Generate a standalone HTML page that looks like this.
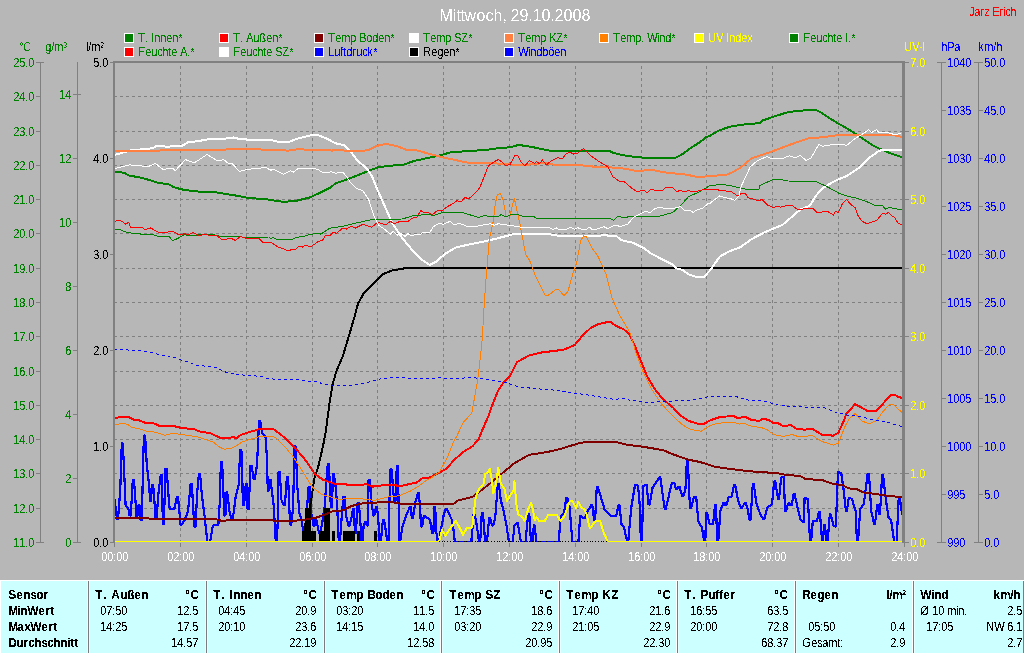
<!DOCTYPE html>
<html lang="de"><head><meta charset="utf-8"><title>Mittwoch, 29.10.2008</title>
<style>html,body{margin:0;padding:0;background:#b7b7b7;overflow:hidden}svg{display:block}text{font-family:"Liberation Sans",sans-serif;font-size:11px}.b{font-weight:bold;font-size:12px}.e{text-anchor:end}.m{text-anchor:middle}.g{fill:#008000}.bl{fill:#0000ff}.y{fill:#ffff00}.w{fill:#fff}</style></head><body>
<svg width="1024" height="653" viewBox="0 0 1024 653">
<defs><filter id="cr" x="0" y="0" width="1024" height="653" filterUnits="userSpaceOnUse" color-interpolation-filters="sRGB"><feComponentTransfer><feFuncA type="discrete" tableValues="0 0 0 0 0 0 0 0 0 1 1 1 1 1 1 1 1 1 1 1"/></feComponentTransfer></filter><filter id="cr2" x="0" y="0" width="1024" height="40" filterUnits="userSpaceOnUse" color-interpolation-filters="sRGB"><feComponentTransfer><feFuncA type="discrete" tableValues="0 0 0 0 0 0 0 0 0 0 0 1 1 1 1 1 1 1 1 1"/></feComponentTransfer></filter></defs>
<rect x="0" y="0" width="1024" height="653" fill="#b7b7b7"/>
<g shape-rendering="crispEdges">
<rect x="124" y="33" width="10" height="10" fill="#fff"/><rect x="125" y="34" width="8" height="8" fill="#008000"/>
<rect x="219" y="33" width="10" height="10" fill="#fff"/><rect x="220" y="34" width="8" height="8" fill="#ff0000"/>
<rect x="314" y="33" width="10" height="10" fill="#fff"/><rect x="315" y="34" width="8" height="8" fill="#800000"/>
<rect x="409" y="33" width="10" height="10" fill="#fff"/><rect x="410" y="34" width="8" height="8" fill="#ffffff"/>
<rect x="504" y="33" width="10" height="10" fill="#fff"/><rect x="505" y="34" width="8" height="8" fill="#ff8040"/>
<rect x="599" y="33" width="10" height="10" fill="#fff"/><rect x="600" y="34" width="8" height="8" fill="#ff8000"/>
<rect x="694" y="33" width="10" height="10" fill="#fff"/><rect x="695" y="34" width="8" height="8" fill="#ffff00"/>
<rect x="789" y="33" width="10" height="10" fill="#fff"/><rect x="790" y="34" width="8" height="8" fill="#008000"/>
<rect x="124" y="47" width="10" height="10" fill="#fff"/><rect x="125" y="48" width="8" height="8" fill="#ff0000"/>
<rect x="219" y="47" width="10" height="10" fill="#fff"/><rect x="220" y="48" width="8" height="8" fill="#ffffff"/>
<rect x="314" y="47" width="10" height="10" fill="#fff"/><rect x="315" y="48" width="8" height="8" fill="#0000ff"/>
<rect x="409" y="47" width="10" height="10" fill="#fff"/><rect x="410" y="48" width="8" height="8" fill="#000000"/>
<rect x="504" y="47" width="10" height="10" fill="#fff"/><rect x="505" y="48" width="8" height="8" fill="#0000ff"/>
</g>
<g shape-rendering="crispEdges" stroke="#808080" stroke-width="1" fill="none">
<path stroke-dasharray="3 3" stroke-dashoffset="1" d="M115 96.5H902M115 131.5H902M115 165.5H902M115 199.5H902M115 233.5H902M115 268.5H902M115 302.5H902M115 336.5H902M115 371.5H902M115 405.5H902M115 439.5H902M115 473.5H902M115 508.5H902"/>
<path stroke-dasharray="3 3" stroke-dashoffset="3" d="M180.5 63V541M246.5 63V541M312.5 63V541M377.5 63V541M443.5 63V541M509.5 63V541M575.5 63V541M641.5 63V541M706.5 63V541M772.5 63V541M838.5 63V541"/>
<path stroke="none" fill="#808080" d="M113 61H905V543H902V63H115V543H113Z"/>
<path d="M40.5 62V543M36 62.5H44M36 96.5H40M36 131.5H40M36 165.5H40M36 199.5H40M36 233.5H40M36 268.5H40M36 302.5H40M36 336.5H40M36 371.5H40M36 405.5H40M36 439.5H40M36 473.5H40M36 508.5H40M36 542.5H44M77.5 62V543M73 542.5H81M73 478.5H77M73 414.5H77M73 350.5H77M73 286.5H77M73 222.5H77M73 158.5H77M73 94.5H81M110 542.5H113M110 446.5H113M110 350.5H113M110 254.5H113M110 158.5H113M110 62.5H113M905 542.5H909M905 473.5H909M905 405.5H909M905 336.5H909M905 268.5H909M905 199.5H909M905 131.5H909M905 62.5H909M941.5 62V543M937 62.5H946M941 110.5H946M941 158.5H946M941 206.5H946M941 254.5H946M941 302.5H946M941 350.5H946M941 398.5H946M941 446.5H946M941 494.5H946M937 542.5H946M978.5 62V543M974 62.5H983M978 110.5H983M978 158.5H983M978 206.5H983M978 254.5H983M978 302.5H983M978 350.5H983M978 398.5H983M978 446.5H983M978 494.5H983M974 542.5H983M114.5 543V547M180.5 543V547M246.5 543V547M312.5 543V547M377.5 543V547M443.5 543V547M509.5 543V547M575.5 543V547M641.5 543V547M706.5 543V547M772.5 543V547M838.5 543V547M904.5 543V547"/>
</g>
<clipPath id="pc"><rect x="115" y="63" width="787" height="479"/></clipPath>
<g fill="none" shape-rendering="crispEdges" stroke-linejoin="round" clip-path="url(#pc)">
<polyline points="114.0,496.1 116.0,510.0 117.0,519.0 118.0,519.0 119.5,500.0 120.5,483.0 121.8,443.5 122.8,443.5 124.0,468.0 125.6,505.3 128.4,509.0 129.6,515.4 130.8,515.4 132.8,479.6 133.9,479.6 135.7,503.5 136.0,518.2 137.2,518.2 138.4,505.3 139.6,505.3 140.6,520.0 141.8,520.0 143.1,464.9 143.9,435.5 145.1,435.5 146.7,463.1 149.5,488.8 149.8,500.7 151.0,500.7 152.0,485.1 153.2,485.1 155.0,509.0 155.3,518.2 156.5,518.2 158.7,490.6 160.8,475.0 162.0,475.0 162.8,523.7 163.9,523.7 165.4,468.6 166.6,468.6 168.4,494.3 169.7,509.0 174.3,509.0 176.8,497.0 178.0,497.0 179.8,516.3 180.1,524.6 181.2,524.6 184.4,520.9 188.1,510.8 190.6,484.2 191.8,484.2 193.0,503.5 194.3,526.4 195.5,526.4 197.2,492.5 198.9,474.1 200.1,474.1 201.8,494.3 204.6,516.3 207.4,542.0 210.1,542.0 212.9,525.5 218.4,524.6 219.7,503.5 220.9,462.1 222.1,462.1 223.5,494.3 224.2,515.4 225.4,515.4 226.0,492.5 227.2,492.5 229.4,510.8 231.6,519.1 232.8,519.1 235.8,496.1 238.6,485.1 240.2,450.2 241.4,450.2 242.3,477.8 242.9,505.3 244.1,505.3 245.8,484.2 246.9,484.2 247.5,509.0 248.7,509.0 250.5,465.8 251.7,465.8 253.6,478.7 254.8,478.7 257.0,464.9 259.1,421.0 260.2,421.0 262.5,433.7 265.8,437.3 267.1,463.1 267.8,490.6 268.9,490.6 269.4,479.6 270.6,479.6 271.8,490.6 273.7,505.3 275.8,542.0 276.9,542.0 277.7,521.8 278.6,472.2 279.8,472.2 281.4,499.8 283.8,505.3 284.9,505.3 286.9,476.8 288.1,476.8 289.3,507.1 290.1,524.6 291.2,524.6 293.0,509.0 294.6,446.5 295.8,446.5 297.2,485.1 299.4,512.7 301.6,520.0 303.4,532.9 304.6,532.9 306.5,515.0 308.6,486.9 309.7,486.9 310.8,510.8 313.6,525.5 314.7,525.5 315.3,520.0 316.4,520.0 319.1,532.9 320.2,532.9 322.4,521.8 325.1,503.5 326.0,485.1 327.8,464.0 328.9,464.0 330.2,494.3 330.9,507.1 332.1,507.1 332.8,474.1 333.9,474.1 336.1,490.6 338.0,521.8 338.8,542.0 339.9,542.0 341.6,518.2 343.4,497.0 344.6,497.0 346.2,516.3 348.4,525.5 349.6,525.5 351.7,516.3 353.1,509.0 354.2,509.0 354.8,532.9 355.9,532.9 357.6,502.6 358.8,502.6 360.9,529.2 361.2,542.0 362.4,542.0 363.7,525.5 364.9,521.8 366.1,521.8 366.8,525.5 367.9,525.5 368.6,479.6 369.8,479.6 371.4,499.8 373.2,515.4 374.4,515.4 375.9,507.1 377.1,507.1 378.7,525.5 379.6,542.0 380.8,542.0 382.9,520.0 384.1,520.0 386.1,532.9 387.2,542.0 389.0,542.0 389.4,503.5 390.6,469.5 391.8,469.5 393.1,490.6 394.3,501.6 395.4,501.6 396.8,465.8 397.9,465.8 398.6,503.5 398.9,542.0 400.1,542.0 402.3,527.4 406.8,513.6 409.9,507.1 411.1,507.1 411.8,518.2 412.9,518.2 415.1,503.5 417.8,493.4 418.9,493.4 420.3,510.8 420.9,526.4 422.1,526.4 423.8,516.3 424.9,516.3 428.0,518.2 430.0,520.0 432.2,532.9 433.4,532.9 434.1,507.1 435.2,507.1 436.4,532.9 437.8,542.0 438.9,542.0 441.0,529.2 443.8,514.5 445.6,509.0 446.8,509.0 449.3,514.5 452.0,520.0 453.9,532.9 454.8,542.0 471.3,542.0 473.6,514.5 474.7,514.5 476.8,525.5 479.1,542.0 480.2,542.0 481.8,512.7 482.9,512.7 484.2,529.2 485.1,542.0 487.0,542.0 489.1,518.2 490.2,518.2 491.9,525.5 493.1,525.5 495.2,518.2 497.8,484.2 498.9,484.2 500.7,499.8 503.5,510.8 506.2,523.7 509.0,542.0 512.7,542.0 514.5,525.5 516.7,522.8 517.8,522.8 520.0,536.5 520.9,542.0 525.5,542.0 527.4,521.8 528.2,514.5 529.3,514.5 531.0,542.0 532.5,542.0 533.8,525.5 534.8,525.5 536.2,542.0 558.6,542.0 560.8,516.3 564.1,512.7 566.2,498.0 567.3,498.0 569.6,507.1 572.4,542.0 578.4,542.0 580.1,516.3 581.1,516.3 583.8,518.2 584.8,518.2 587.1,512.7 590.0,507.1 591.2,505.3 592.3,505.3 594.1,520.0 595.1,520.0 596.8,486.9 597.8,486.9 600.1,494.3 604.7,509.9 610.2,515.4 615.2,516.3 616.2,516.3 618.5,505.3 619.5,505.3 621.6,524.6 624.0,527.4 627.2,542.0 628.2,542.0 631.3,507.1 635.1,484.7 636.1,484.7 638.1,486.0 639.6,503.5 640.9,542.0 641.9,542.0 643.3,486.0 645.5,484.7 646.5,484.7 648.6,504.4 649.6,504.4 652.5,487.9 659.2,477.4 660.3,477.4 662.6,494.3 664.8,509.0 665.8,509.0 671.7,483.3 674.5,483.3 675.8,488.8 676.8,488.8 678.6,486.9 679.6,486.9 682.2,496.1 683.3,496.1 685.5,488.8 686.9,460.3 687.9,460.3 689.2,494.3 690.2,508.1 691.2,508.1 693.8,497.0 696.2,497.0 698.4,521.8 702.0,527.4 704.2,542.0 705.3,542.0 706.1,512.7 707.1,512.7 709.4,523.7 713.1,523.7 715.0,505.3 716.0,505.3 717.2,542.0 718.2,542.0 720.4,510.8 723.6,502.6 724.6,502.6 725.4,505.3 726.4,505.3 728.7,497.0 731.4,497.0 734.2,484.7 735.2,484.7 737.9,499.8 741.0,508.1 742.0,508.1 744.7,502.6 745.8,502.6 748.0,510.8 749.5,520.0 750.5,520.0 752.8,484.2 753.8,484.2 756.4,503.5 760.1,513.6 763.2,519.1 764.3,519.1 767.5,507.1 772.0,504.4 774.2,481.4 775.3,481.4 778.0,498.9 779.0,498.9 781.2,477.8 782.6,476.8 783.6,476.8 785.2,510.8 786.3,510.8 788.1,503.5 789.1,503.5 790.8,505.3 791.8,505.3 793.6,493.9 794.6,493.9 797.8,509.0 800.5,519.1 802.8,521.8 803.8,521.8 804.6,498.0 805.6,498.0 807.9,498.9 810.1,542.0 811.1,542.0 812.8,520.9 817.0,520.9 818.9,511.7 819.9,511.7 822.1,542.0 823.1,542.0 823.9,524.6 824.9,524.6 826.6,542.0 827.6,542.0 829.8,514.5 830.8,514.5 833.6,525.5 834.9,526.4 835.9,526.4 837.3,488.8 838.0,472.2 839.0,472.2 841.3,473.2 843.7,490.6 845.9,510.8 846.9,510.8 848.7,498.0 849.8,498.0 851.9,498.9 855.6,510.8 857.0,542.0 858.0,542.0 860.2,509.0 863.9,503.5 867.6,474.1 869.0,474.1 871.2,510.8 874.0,523.7 875.0,523.7 877.2,505.3 878.2,505.3 879.0,513.6 880.0,513.6 882.1,475.0 883.1,475.0 885.9,499.8 888.7,518.2 891.1,520.0 894.2,542.0 896.6,542.0 898.7,498.9 899.8,498.9 900.6,503.5 902.1,514.5" stroke="#0000ff" stroke-width="2.2" />
<rect x="301.5" y="530.5" width="14.5" height="10.5" fill="#000" stroke="none"/>
<rect x="305.3" y="507.6" width="5.8" height="33.4" fill="#000" stroke="none"/>
<rect x="319.0" y="530.5" width="11.2" height="10.5" fill="#000" stroke="none"/>
<rect x="324.3" y="507.6" width="5.8" height="33.4" fill="#000" stroke="none"/>
<rect x="332.1" y="530.5" width="2.9" height="10.5" fill="#000" stroke="none"/>
<rect x="342.9" y="530.5" width="12.2" height="10.5" fill="#000" stroke="none"/>
<rect x="357.0" y="530.5" width="3.0" height="10.5" fill="#000" stroke="none"/>
<rect x="373.9" y="530.5" width="3.1" height="10.5" fill="#000" stroke="none"/>
<polyline points="303.0,541.0 306.0,520.0 309.5,509.0 311.3,499.8 314.1,479.6 318.7,464.9 323.3,444.7 326.0,430.0 329.6,402.3 332.5,384.6 336.5,370.9 342.4,357.2 344.3,351.3 350.2,331.7 354.7,316.0 358.0,303.7 363.9,292.9 370.8,286.0 374.7,282.1 382.5,274.3 392.4,270.4 404.1,268.4 419.8,268.0 903.0,268.0" stroke="#000000" stroke-width="2" />
<polyline points="114.3,171.8 123.7,172.7 129.6,175.7 139.4,177.3 149.2,180.0 157.0,182.5 168.8,184.5 174.7,187.5 184.5,190.0 198.2,191.5 215.9,192.3 235.5,195.5 247.3,197.8 266.9,199.4 282.5,201.7 294.3,201.3 310.0,197.4 321.8,191.9 329.6,188.0 335.5,183.5 349.2,178.6 359.0,174.7 368.8,170.8 377.6,167.5 388.4,165.9 404.1,164.5 413.9,161.0 427.6,158.0 437.5,156.1 451.2,152.2 466.9,151.2 486.5,149.8 498.2,148.2 510.0,147.3 518.8,144.9 533.5,147.3 549.2,150.6 574.7,151.2 609.0,150.8 613.9,153.1 627.6,156.1 643.3,157.6 675.7,157.6 682.5,154.1 690.4,148.2 700.2,142.0 706.1,137.1 710.0,135.8 717.8,131.0 729.6,126.7 745.3,124.3 760.0,123.1 762.9,120.4 774.7,116.3 788.4,112.0 804.1,110.4 815.9,110.0 821.8,112.9 827.6,116.9 837.5,123.1 847.3,128.6 859.0,136.1 872.7,145.3 880.6,149.2 892.4,154.1 902.2,157.1" stroke="#008000" stroke-width="2" />
<polyline points="114.3,418.4 119.8,417.0 128.6,417.0 133.5,419.5 139.4,420.5 145.3,422.9 152.2,422.5 159.0,425.8 166.9,426.4 172.7,425.8 180.6,427.8 194.3,429.3 200.2,431.7 210.0,433.1 219.8,437.6 229.6,438.0 232.5,437.0 236.5,438.0 241.4,434.6 249.2,432.1 259.0,429.3 272.7,428.7 281.0,434.6 293.9,446.5 304.9,459.4 315.0,474.1 323.3,480.0 334.3,483.6 343.5,484.2 356.3,485.5 366.4,484.2 372.9,486.6 383.9,485.1 402.3,485.7 416.9,482.4 422.5,478.1 430.0,477.4 437.3,473.7 446.5,468.6 453.9,460.3 463.1,452.0 472.2,446.5 478.7,439.2 482.5,429.7 488.4,416.0 493.3,402.3 498.2,390.5 504.1,381.7 510.0,375.8 516.9,362.1 529.6,355.2 542.4,352.3 555.1,350.9 564.9,349.3 574.7,345.0 582.5,335.6 590.4,328.2 598.2,324.2 610.0,321.5 615.9,325.8 623.7,329.3 629.6,334.6 635.5,347.4 641.4,362.1 647.3,376.8 655.1,389.5 662.9,399.3 672.7,407.2 678.6,414.0 688.4,420.9 698.2,423.8 704.1,423.8 710.0,420.4 719.8,417.0 733.5,416.0 737.5,418.0 745.3,417.0 751.2,419.9 759.0,420.9 762.9,418.9 768.8,419.9 772.7,422.9 777.6,422.9 782.5,425.8 786.5,425.8 790.4,424.8 796.3,428.7 804.1,429.7 812.0,428.7 821.8,434.6 829.6,434.6 832.5,436.0 838.4,432.7 843.3,421.9 846.3,414.0 855.1,404.2 859.0,406.2 866.9,410.7 876.7,410.7 882.5,404.2 890.4,395.4 895.3,395.0 898.2,396.8 902.2,398.0" stroke="#ff0000" stroke-width="2" />
<polyline points="114.3,518.2 215.6,519.1 222.0,520.9 227.6,520.4 270.0,520.4 282.9,520.9 301.2,520.4 315.9,517.8 325.1,514.5 332.5,511.4 343.5,510.3 350.8,506.2 361.8,503.5 374.7,502.6 391.2,502.0 398.6,503.5 453.9,503.5 457.6,500.7 472.2,497.0 483.3,488.8 492.5,481.4 503.5,472.2 514.5,463.1 529.2,454.8 547.6,452.0 562.3,448.4 577.0,443.8 586.1,441.9 615.7,441.9 626.7,444.7 645.1,447.1 663.5,450.2 670.8,453.5 687.4,459.4 700.2,462.1 714.9,466.7 729.6,468.9 750.0,471.3 777.6,473.2 786.7,475.0 799.6,475.9 805.1,478.7 823.5,480.5 832.7,483.8 841.8,485.1 849.2,488.4 856.5,489.1 863.9,492.5 874.9,493.9 889.6,496.1 902.5,497.0" stroke="#800000" stroke-width="2" />
<polyline points="114.3,155.1 129.6,150.6 153.0,148.2 157.0,145.7 168.8,146.9 172.7,145.9 181.6,146.3 187.5,142.4 196.3,141.4 208.0,139.4 219.8,139.4 233.5,137.5 239.4,139.0 259.0,140.4 270.8,140.0 280.6,142.4 288.4,142.0 298.2,138.4 310.0,135.5 317.8,134.9 327.6,139.0 335.5,143.3 344.3,145.3 351.2,152.2 357.0,160.0 366.9,168.8 371.8,175.7 376.7,188.0 384.5,205.6 392.4,223.3 402.2,238.0 412.0,249.8 421.8,259.6 429.6,264.9 435.5,262.1 445.3,253.7 455.1,247.8 466.9,244.9 482.5,241.9 496.3,238.6 510.0,235.1 515.9,233.5 549.2,233.5 552.2,235.1 562.9,236.0 574.7,235.6 588.4,236.0 600.2,235.6 604.1,234.7 608.0,235.6 615.9,235.6 620.8,240.0 633.5,242.9 643.3,247.8 651.2,253.7 662.9,259.6 672.7,264.5 676.7,268.4 682.5,270.0 688.4,274.3 696.3,276.8 704.1,276.8 710.0,270.4 719.8,256.6 729.6,251.1 739.4,247.8 751.2,239.4 764.9,232.1 782.5,224.9 792.4,216.4 800.2,209.6 810.0,205.6 815.9,195.8 822.7,188.0 835.5,180.6 847.3,175.7 859.0,167.8 868.8,158.0 878.6,151.2 882.5,149.8 902.2,149.8" stroke="#ffffff" stroke-width="2" />
<polyline points="114.3,151.2 181.0,150.2 233.5,149.4 253.0,149.2 288.4,150.6 298.2,149.2 310.0,149.8 321.8,149.6 331.6,150.6 339.4,149.8 349.2,151.2 361.0,151.4 368.8,149.8 376.7,145.9 385.5,143.9 396.3,145.9 406.1,149.8 415.9,150.2 427.6,153.3 443.3,157.5 455.1,160.0 466.9,162.5 476.7,163.5 494.3,163.3 506.1,164.3 510.0,164.5 525.7,164.9 545.3,162.9 555.1,164.9 576.7,164.9 596.3,166.9 612.0,167.5 625.7,168.8 635.5,170.8 653.1,170.2 666.9,172.7 686.5,174.7 698.2,177.1 710.0,176.1 726.7,174.7 733.5,171.8 741.4,166.9 751.2,158.6 761.0,155.1 772.7,151.2 788.4,145.3 808.0,138.4 823.7,137.1 839.4,134.9 859.0,135.5 876.7,135.1 890.4,134.5 902.2,136.9" stroke="#ff8040" stroke-width="2" />
<polyline points="114.3,425.2 121.8,423.3 127.6,424.2 131.6,427.4 139.4,428.7 147.3,431.3 155.1,432.1 164.9,435.2 172.7,433.3 182.5,434.6 196.3,436.6 206.1,439.5 212.9,441.9 220.2,447.5 224.8,449.3 233.1,447.8 242.3,441.9 251.2,439.1 261.0,436.2 270.0,436.2 275.5,437.3 284.7,446.5 293.9,457.6 303.1,472.2 312.2,486.9 321.4,494.3 330.6,497.0 338.0,499.4 350.8,498.3 361.8,498.9 374.7,500.4 387.6,497.0 398.6,495.8 409.6,491.5 418.8,486.0 426.1,480.5 430.0,478.7 439.2,472.2 446.5,459.4 453.9,441.0 457.1,435.6 462.9,422.9 471.8,413.1 473.7,402.3 477.6,380.7 480.6,355.2 482.5,335.6 483.5,316.0 485.5,286.0 487.5,260.5 489.4,239.0 493.3,221.3 495.3,203.7 497.3,194.9 500.2,193.5 503.1,199.8 506.1,216.4 510.0,215.5 514.3,198.2 519.8,223.3 525.7,254.7 529.6,260.5 535.5,276.2 545.3,295.5 549.2,294.9 556.1,289.0 559.0,290.0 563.9,295.5 567.8,291.9 572.7,274.3 576.7,262.5 580.6,240.9 583.5,236.0 586.5,237.0 592.4,248.8 598.2,256.6 606.1,274.3 612.0,297.8 619.8,315.5 629.6,331.7 635.5,351.3 643.3,372.9 651.2,388.5 661.0,403.3 672.7,416.0 682.5,424.8 690.4,429.3 701.2,431.3 706.1,427.8 710.0,425.8 715.9,423.5 725.7,422.5 734.5,422.5 739.4,424.2 744.3,423.3 751.2,426.2 762.0,427.8 767.5,430.0 773.9,434.6 783.1,436.4 792.2,434.6 799.6,437.0 812.5,435.5 821.6,441.4 833.6,445.1 838.2,443.2 841.4,435.6 845.3,425.8 849.2,418.9 855.1,413.5 862.0,420.9 868.8,423.8 876.7,420.5 882.5,412.1 889.4,404.6 893.3,404.6 898.2,409.1 902.2,412.5" stroke="#ff8000" stroke-width="1" />
<polyline points="439.2,541.0 441.9,530.1 445.6,535.6 450.2,528.3 455.7,520.9 458.5,525.5 463.1,534.7 466.7,528.3 472.2,527.4 474.1,510.8 475.9,496.1 479.6,487.9 483.3,485.1 485.1,474.1 487.9,472.2 489.7,468.6 491.5,477.8 493.4,493.4 496.1,483.3 498.3,467.7 500.7,483.3 504.4,488.8 507.1,500.7 510.8,494.3 513.6,490.6 514.5,481.4 516.3,503.5 518.2,514.5 521.8,516.3 524.6,520.9 528.3,509.0 531.0,502.6 532.9,509.0 534.7,520.0 536.5,517.2 539.3,520.9 544.8,520.9 548.5,514.5 556.7,514.5 560.4,520.9 564.1,517.2 569.6,501.6 572.4,500.7 576.0,508.1 578.4,501.6 581.5,508.1 584.3,509.0 587.1,515.4 588.9,525.5 590.0,528.3 595.5,520.9 600.1,520.9 603.8,532.9 607.5,541.0" stroke="#ffff00" stroke-width="2" />
<polyline points="114.3,229.6 118.8,229.2 127.6,232.7 141.4,234.1 152.2,234.5 157.0,236.0 168.8,236.4 172.7,240.5 177.6,238.6 184.5,234.5 188.4,235.6 196.3,235.1 202.2,234.1 215.9,235.1 219.8,236.4 237.5,236.4 245.3,237.4 268.8,237.0 270.8,239.0 272.7,237.4 276.7,239.4 292.4,239.4 296.3,237.4 304.1,236.4 310.0,234.5 317.8,233.1 320.8,234.1 329.6,228.2 343.3,226.2 355.1,223.3 372.7,219.4 402.2,219.0 413.9,215.5 427.6,214.5 433.5,215.5 443.3,212.1 461.0,212.1 468.8,214.5 478.6,217.4 484.5,215.5 490.4,216.8 498.2,216.4 501.2,214.5 506.1,217.0 510.0,214.8 517.8,214.5 522.7,216.4 533.5,216.4 536.5,218.4 610.0,218.4 613.3,220.4 617.8,216.4 623.7,217.4 633.5,216.4 659.0,216.4 672.7,212.5 680.6,205.6 688.4,196.8 698.2,192.3 704.1,189.0 710.0,185.5 721.8,184.5 729.6,185.5 738.4,187.5 745.0,189.0 759.0,189.0 760.0,185.5 772.7,179.6 777.6,179.0 788.4,181.0 815.9,181.6 824.7,185.5 832.5,189.6 839.4,193.5 847.3,196.2 855.1,197.8 866.9,201.7 874.7,205.3 882.5,205.6 885.5,209.2 889.4,207.2 894.3,208.6 902.2,210.0" stroke="#008000" stroke-width="1" />
<polyline points="114.3,222.3 117.8,220.0 122.7,221.7 125.7,224.3 128.6,222.3 130.6,227.2 141.4,227.2 145.3,229.6 150.2,227.8 158.0,232.1 167.8,232.1 172.7,231.1 178.6,234.7 184.5,233.7 188.4,234.7 193.3,232.5 199.2,236.0 204.1,234.1 212.0,236.0 215.9,235.1 221.8,239.4 231.6,238.6 235.5,240.5 240.4,236.4 247.3,238.6 259.0,238.6 262.9,242.5 271.8,242.9 277.6,246.8 287.5,250.4 295.3,249.4 299.2,246.2 302.2,247.2 306.1,244.9 310.0,247.2 317.8,241.9 322.7,240.0 325.7,235.1 329.6,236.0 333.5,232.1 336.5,233.5 342.4,228.2 346.3,229.2 351.2,226.2 355.1,228.2 362.9,224.3 371.8,227.2 377.6,222.3 385.5,224.9 390.4,221.3 394.3,223.7 400.2,221.3 408.0,221.3 412.0,218.4 416.9,217.0 420.8,210.5 423.7,212.5 427.6,212.5 432.5,214.5 437.5,210.5 441.4,211.1 447.3,206.6 451.2,204.7 457.1,200.7 461.0,202.1 464.9,197.4 468.8,198.8 474.7,193.5 479.6,188.0 488.4,165.9 494.3,161.6 498.2,159.6 502.2,162.0 506.1,165.9 510.0,164.4 514.9,155.5 517.8,155.5 520.8,162.0 524.7,165.9 529.6,160.6 534.5,163.3 536.5,161.4 539.4,163.9 542.4,160.0 546.3,164.9 551.2,161.0 558.0,157.5 562.0,159.0 565.9,154.1 569.8,152.2 573.7,154.1 577.6,153.1 583.5,148.6 586.5,151.2 590.4,155.5 598.2,161.0 608.0,166.9 612.9,176.7 619.8,181.6 623.7,181.2 631.6,188.0 637.5,191.9 643.3,190.0 647.3,192.9 651.2,189.0 654.1,190.0 662.9,190.0 664.9,188.0 668.0,187.0 672.7,188.0 676.7,191.5 680.6,190.4 684.5,191.9 688.4,190.4 692.4,191.9 698.2,190.9 704.1,189.6 710.0,189.0 721.8,190.4 731.6,191.9 737.5,195.8 741.4,193.5 745.3,193.5 748.2,197.8 759.0,200.7 762.0,199.4 767.8,205.3 772.7,207.2 778.6,206.6 780.6,207.2 786.5,205.6 792.4,205.6 797.3,209.2 802.2,209.2 808.0,208.0 812.9,208.6 816.9,212.5 827.6,211.5 833.5,215.1 835.5,211.5 838.4,212.5 842.4,203.7 846.3,199.4 851.2,204.7 855.1,207.6 858.0,215.5 862.0,221.3 866.9,223.7 872.7,221.7 876.7,220.4 882.5,213.5 885.5,214.1 888.4,212.5 891.4,215.5 894.3,217.0 898.2,223.3 901.2,224.7 903.1,223.3" stroke="#ff0000" stroke-width="1" />
<polyline points="114.3,168.8 129.6,164.9 139.4,165.5 147.3,166.9 155.5,163.5 162.9,169.4 172.7,168.2 175.1,170.8 185.5,159.6 194.3,162.9 207.0,154.5 217.8,161.0 223.7,159.6 227.6,162.9 232.5,163.9 239.4,171.4 247.3,169.4 265.9,167.5 270.8,170.2 273.7,169.4 283.5,174.1 290.4,170.8 293.3,172.2 298.2,168.4 310.0,168.2 317.8,169.2 322.7,172.7 331.6,171.8 335.5,173.1 343.3,172.7 347.3,177.6 351.2,183.5 356.0,188.0 362.9,190.9 368.8,199.8 373.7,215.5 378.6,225.3 384.5,229.2 390.4,234.1 393.3,231.1 397.3,235.1 400.2,233.1 405.1,236.4 408.0,233.5 411.0,236.0 416.9,234.1 419.8,234.7 423.7,232.1 429.6,232.7 433.5,226.6 439.4,223.3 443.3,224.3 450.2,221.3 454.1,224.9 459.0,223.3 466.9,226.2 476.7,226.2 490.4,223.7 494.3,225.3 498.2,223.7 510.0,225.5 515.9,226.2 520.8,227.2 549.2,227.8 553.1,229.6 556.1,227.8 559.0,229.6 566.9,229.2 570.8,227.2 574.7,229.2 577.6,227.6 582.5,229.6 586.5,229.2 589.4,227.2 592.4,229.6 596.3,229.2 604.1,226.8 608.0,228.8 612.0,226.2 616.9,225.3 619.8,226.6 627.6,224.3 633.5,217.4 639.4,214.5 645.3,211.5 650.2,212.5 655.1,208.6 660.0,207.2 664.9,208.6 674.7,208.2 680.6,206.6 684.5,210.2 690.4,210.5 693.3,212.5 697.3,209.6 702.2,208.6 708.0,203.7 710.0,203.3 719.8,195.8 724.7,197.8 729.6,198.2 734.5,200.4 739.4,195.8 740.4,188.0 745.3,177.6 750.2,166.9 757.0,161.0 766.9,156.5 772.7,159.0 782.5,158.6 789.4,155.7 795.3,158.0 800.2,155.5 806.1,160.4 811.0,158.0 818.8,144.3 822.7,146.3 831.6,144.7 843.3,144.3 846.3,145.7 855.1,138.4 864.9,132.5 868.4,129.6 871.8,132.5 876.7,129.6 878.6,132.5 888.4,132.9 894.3,134.5 901.2,133.5" stroke="#ffffff" stroke-width="1" />
<polyline points="114.3,349.7 125.7,349.3 129.6,350.7 141.4,350.9 151.2,352.3 159.0,354.6 168.8,356.2 176.7,357.8 181.6,360.1 188.4,362.1 196.3,365.0 208.0,366.6 215.9,367.4 223.7,371.5 231.6,373.8 247.3,375.4 261.0,376.4 266.9,378.4 276.7,379.3 296.3,379.7 306.1,380.3 310.0,381.7 317.8,381.7 321.8,383.6 335.5,385.6 349.2,385.6 362.9,383.3 372.7,381.1 378.6,379.1 392.4,377.8 404.1,377.8 412.0,378.7 431.6,378.7 438.4,377.4 443.3,378.7 461.0,378.7 466.9,377.4 482.5,378.4 494.3,380.3 504.1,382.1 510.0,384.0 517.8,386.6 533.5,388.5 559.0,390.5 574.7,393.1 594.3,396.0 613.9,399.3 625.7,398.4 629.6,400.3 643.3,401.9 651.2,402.3 662.9,401.7 676.7,400.9 690.4,400.3 702.2,398.4 710.0,396.0 727.6,396.0 737.5,397.0 749.2,400.3 766.9,401.3 774.7,404.6 788.4,406.2 808.0,407.2 822.7,407.2 835.5,412.1 847.3,415.0 859.0,416.6 872.7,419.5 886.5,421.9 902.2,426.8" stroke="#0000ff" stroke-width="1" stroke-dasharray="3 3"/>
<path d="M439 541.5H608" stroke="#000" stroke-width="1" stroke-dasharray="1 1.74"/>
<path d="M115 541.5H439M608 541.5H902" stroke="#ffff00" stroke-width="1"/>
</g>
<g shape-rendering="crispEdges">
<rect x="0" y="580" width="1024" height="73" fill="#ccffff"/>
<rect x="0" y="580" width="1024" height="1" fill="#fff"/><rect x="0" y="580" width="1" height="73" fill="#fff"/>
<rect x="87" y="581" width="1" height="72" fill="#fff"/><rect x="88" y="581" width="1" height="72" fill="#7c7c80"/><rect x="89" y="581" width="1" height="72" fill="#e4ffff"/>
<rect x="205" y="581" width="1" height="72" fill="#fff"/><rect x="206" y="581" width="1" height="72" fill="#7c7c80"/><rect x="207" y="581" width="1" height="72" fill="#e4ffff"/>
<rect x="323" y="581" width="1" height="72" fill="#fff"/><rect x="324" y="581" width="1" height="72" fill="#7c7c80"/><rect x="325" y="581" width="1" height="72" fill="#e4ffff"/>
<rect x="440" y="581" width="1" height="72" fill="#fff"/><rect x="441" y="581" width="1" height="72" fill="#7c7c80"/><rect x="442" y="581" width="1" height="72" fill="#e4ffff"/>
<rect x="558" y="581" width="1" height="72" fill="#fff"/><rect x="559" y="581" width="1" height="72" fill="#7c7c80"/><rect x="560" y="581" width="1" height="72" fill="#e4ffff"/>
<rect x="676" y="581" width="1" height="72" fill="#fff"/><rect x="677" y="581" width="1" height="72" fill="#7c7c80"/><rect x="678" y="581" width="1" height="72" fill="#e4ffff"/>
<rect x="794" y="581" width="1" height="72" fill="#fff"/><rect x="795" y="581" width="1" height="72" fill="#7c7c80"/><rect x="796" y="581" width="1" height="72" fill="#e4ffff"/>
<rect x="912" y="581" width="1" height="72" fill="#fff"/><rect x="913" y="581" width="1" height="72" fill="#7c7c80"/><rect x="914" y="581" width="1" height="72" fill="#e4ffff"/>
<rect x="1023" y="581" width="1" height="72" fill="#7c7c80"/>
</g>
<g filter="url(#cr)">
<g transform="scale(1,1.13)">
<text y="14.16" x="969.25 974.25 980.25 984.25 989.25 992.25 999.25 1003.25 1005.25 1010.25" fill="#ff0000">Jarz Erich</text>
<text y="37.17" x="138.25 145.25 148.25 151.25 154.25 160.25 166.25 172.25 178.5" class="g">T. Innen<tspan style="font-size:10px">*</tspan></text>
<text y="37.17" x="233.25 240.25 243.25 246.25 253.25 259.25 266.25 272.25 278.5" class="g">T. Außen<tspan style="font-size:10px">*</tspan></text>
<text y="37.17" x="328.25 335.25 341.25 350.25 356.25 359.25 366.25 372.25 378.25 384.25 390.5" class="g">Temp Boden<tspan style="font-size:10px">*</tspan></text>
<text y="37.17" x="423.25 430.25 436.25 445.25 451.25 454.25 461.25 468.5" class="g">Temp SZ<tspan style="font-size:10px">*</tspan></text>
<text y="37.17" x="518.25 525.25 531.25 540.25 546.25 549.25 556.25 563.5" class="g">Temp KZ<tspan style="font-size:10px">*</tspan></text>
<text y="37.17" x="613.25 620.25 626.25 635.25 641.25 644.25 647.25 657.25 659.25 665.25 671.5" class="g">Temp. Wind<tspan style="font-size:10px">*</tspan></text>
<text y="37.17" x="708.25 716.25 723.25 726.25 729.25 735.25 741.25 747.25" class="y">UV Index</text>
<text y="37.17" x="803.25 810.25 816.25 822.25 827.25 833.25 836.25 842.25 845.25 848.25 851.5" class="g">Feuchte I.<tspan style="font-size:10px">*</tspan></text>
<text y="49.56" x="138.25 145.25 151.25 157.25 162.25 168.25 171.25 177.25 180.25 187.25 190.5" class="g">Feuchte A.<tspan style="font-size:10px">*</tspan></text>
<text y="49.56" x="233.25 240.25 246.25 252.25 257.25 263.25 266.25 272.25 275.25 282.25 289.5" class="g">Feuchte SZ<tspan style="font-size:10px">*</tspan></text>
<text y="49.56" x="328.25 334.25 340.25 343.25 346.25 352.25 356.25 362.25 367.25 373.5" class="bl">Luftdruck<tspan style="font-size:10px">*</tspan></text>
<text y="49.56" x="423.25 431.25 437.25 443.25 449.25 455.5">Regen<tspan style="font-size:10px">*</tspan></text>
<text y="49.56" x="518.25 528.25 530.25 536.25 542.25 548.25 554.25 560.25" class="bl">Windböen</text>
<text y="45.13" x="19.25 23.25" class="g">°C</text>
<text y="45.13" x="45.25 51.25 54.25 63.25" class="g">g/m³</text>
<text y="59.29" x="13.25 19.25 25.25 28.25" class="g">25.0</text>
<text y="89.38" x="13.25 19.25 25.25 28.25" class="g">24.0</text>
<text y="120.35" x="13.25 19.25 25.25 28.25" class="g">23.0</text>
<text y="150.44" x="13.25 19.25 25.25 28.25" class="g">22.0</text>
<text y="180.53" x="13.25 19.25 25.25 28.25" class="g">21.0</text>
<text y="210.62" x="13.25 19.25 25.25 28.25" class="g">20.0</text>
<text y="241.59" x="13.25 19.25 25.25 28.25" class="g">19.0</text>
<text y="271.68" x="13.25 19.25 25.25 28.25" class="g">18.0</text>
<text y="301.77" x="13.25 19.25 25.25 28.25" class="g">17.0</text>
<text y="332.74" x="13.25 19.25 25.25 28.25" class="g">16.0</text>
<text y="362.83" x="13.25 19.25 25.25 28.25" class="g">15.0</text>
<text y="392.92" x="13.25 19.25 25.25 28.25" class="g">14.0</text>
<text y="423.01" x="13.25 19.25 25.25 28.25" class="g">13.0</text>
<text y="453.98" x="13.25 19.25 25.25 28.25" class="g">12.0</text>
<text y="484.07" x="13.25 19.25 25.25 28.25" class="g">11.0</text>
<text y="484.07" x="65.25" class="g">0</text>
<text y="427.43" x="65.25" class="g">2</text>
<text y="370.80" x="65.25" class="g">4</text>
<text y="314.16" x="65.25" class="g">6</text>
<text y="257.52" x="65.25" class="g">8</text>
<text y="200.88" x="59.25 65.25" class="g">10</text>
<text y="144.25" x="59.25 65.25" class="g">12</text>
<text y="87.61" x="59.25 65.25" class="g">14</text>
<text y="45.13" x="86.25 88.25 91.25 100.25">l/m²</text>
<text y="484.07" x="93.25 99.25 102.25">0.0</text>
<text y="399.12" x="93.25 99.25 102.25">1.0</text>
<text y="314.16" x="93.25 99.25 102.25">2.0</text>
<text y="229.20" x="93.25 99.25 102.25">3.0</text>
<text y="144.25" x="93.25 99.25 102.25">4.0</text>
<text y="59.29" x="93.25 99.25 102.25">5.0</text>
<text y="45.13" x="904.25 912.25 919.25 922.25" class="y">UV-I</text>
<text y="484.07" x="910.25 916.25 919.25" class="y">0.0</text>
<text y="423.01" x="910.25 916.25 919.25" class="y">1.0</text>
<text y="362.83" x="910.25 916.25 919.25" class="y">2.0</text>
<text y="301.77" x="910.25 916.25 919.25" class="y">3.0</text>
<text y="241.59" x="910.25 916.25 919.25" class="y">4.0</text>
<text y="180.53" x="910.25 916.25 919.25" class="y">5.0</text>
<text y="120.35" x="910.25 916.25 919.25" class="y">6.0</text>
<text y="59.29" x="910.25 916.25 919.25" class="y">7.0</text>
<text y="45.13" x="941.25 947.25 954.25" class="bl">hPa</text>
<text y="45.13" x="978.25 984.25 993.25 996.25" class="bl">km/h</text>
<text y="59.29" x="947.25 953.25 959.25 965.25" class="bl">1040</text>
<text y="59.29" x="984.25 990.25 996.25 999.25" class="bl">50.0</text>
<text y="101.77" x="947.25 953.25 959.25 965.25" class="bl">1035</text>
<text y="101.77" x="984.25 990.25 996.25 999.25" class="bl">45.0</text>
<text y="144.25" x="947.25 953.25 959.25 965.25" class="bl">1030</text>
<text y="144.25" x="984.25 990.25 996.25 999.25" class="bl">40.0</text>
<text y="186.73" x="947.25 953.25 959.25 965.25" class="bl">1025</text>
<text y="186.73" x="984.25 990.25 996.25 999.25" class="bl">35.0</text>
<text y="229.20" x="947.25 953.25 959.25 965.25" class="bl">1020</text>
<text y="229.20" x="984.25 990.25 996.25 999.25" class="bl">30.0</text>
<text y="271.68" x="947.25 953.25 959.25 965.25" class="bl">1015</text>
<text y="271.68" x="984.25 990.25 996.25 999.25" class="bl">25.0</text>
<text y="314.16" x="947.25 953.25 959.25 965.25" class="bl">1010</text>
<text y="314.16" x="984.25 990.25 996.25 999.25" class="bl">20.0</text>
<text y="356.64" x="947.25 953.25 959.25 965.25" class="bl">1005</text>
<text y="356.64" x="984.25 990.25 996.25 999.25" class="bl">15.0</text>
<text y="399.12" x="947.25 953.25 959.25 965.25" class="bl">1000</text>
<text y="399.12" x="984.25 990.25 996.25 999.25" class="bl">10.0</text>
<text y="441.59" x="947.25 953.25 959.25" class="bl">995</text>
<text y="441.59" x="984.25 990.25 993.25" class="bl">5.0</text>
<text y="484.07" x="947.25 953.25 959.25" class="bl">990</text>
<text y="484.07" x="984.25 990.25 993.25" class="bl">0.0</text>
<text y="496.46" x="101.25 107.25 113.25 116.25 122.25" class="w">00:00</text>
<text y="496.46" x="167.25 173.25 179.25 182.25 188.25" class="w">02:00</text>
<text y="496.46" x="233.25 239.25 245.25 248.25 254.25" class="w">04:00</text>
<text y="496.46" x="299.25 305.25 311.25 314.25 320.25" class="w">06:00</text>
<text y="496.46" x="364.25 370.25 376.25 379.25 385.25" class="w">08:00</text>
<text y="496.46" x="430.25 436.25 442.25 445.25 451.25" class="w">10:00</text>
<text y="496.46" x="496.25 502.25 508.25 511.25 517.25" class="w">12:00</text>
<text y="496.46" x="562.25 568.25 574.25 577.25 583.25" class="w">14:00</text>
<text y="496.46" x="628.25 634.25 640.25 643.25 649.25" class="w">16:00</text>
<text y="496.46" x="693.25 699.25 705.25 708.25 714.25" class="w">18:00</text>
<text y="496.46" x="759.25 765.25 771.25 774.25 780.25" class="w">20:00</text>
<text y="496.46" x="825.25 831.25 837.25 840.25 846.25" class="w">22:00</text>
<text y="496.46" x="891.25 897.25 903.25 906.25 912.25" class="w">24:00</text>
<text y="544.25" x="100.25 106.25 112.25 115.25 121.25">07:50</text>
<text y="544.25" x="177.25 183.25 189.25 192.25">12.5</text>
<text y="558.41" x="100.25 106.25 112.25 115.25 121.25">14:25</text>
<text y="558.41" x="177.25 183.25 189.25 192.25">17.5</text>
<text y="572.57" x="171.25 177.25 183.25 186.25 192.25">14.57</text>
<text y="544.25" x="218.25 224.25 230.25 233.25 239.25">04:45</text>
<text y="544.25" x="295.25 301.25 307.25 310.25">20.9</text>
<text y="558.41" x="218.25 224.25 230.25 233.25 239.25">20:10</text>
<text y="558.41" x="295.25 301.25 307.25 310.25">23.6</text>
<text y="572.57" x="289.25 295.25 301.25 304.25 310.25">22.19</text>
<text y="544.25" x="336.25 342.25 348.25 351.25 357.25">03:20</text>
<text y="544.25" x="413.25 419.25 425.25 428.25">11.5</text>
<text y="558.41" x="336.25 342.25 348.25 351.25 357.25">14:15</text>
<text y="558.41" x="413.25 419.25 425.25 428.25">14.0</text>
<text y="572.57" x="407.25 413.25 419.25 422.25 428.25">12.58</text>
<text y="544.25" x="454.25 460.25 466.25 469.25 475.25">17:35</text>
<text y="544.25" x="531.25 537.25 543.25 546.25">18.6</text>
<text y="558.41" x="454.25 460.25 466.25 469.25 475.25">03:20</text>
<text y="558.41" x="531.25 537.25 543.25 546.25">22.9</text>
<text y="572.57" x="525.25 531.25 537.25 540.25 546.25">20.95</text>
<text y="544.25" x="572.25 578.25 584.25 587.25 593.25">17:40</text>
<text y="544.25" x="649.25 655.25 661.25 664.25">21.6</text>
<text y="558.41" x="572.25 578.25 584.25 587.25 593.25">21:05</text>
<text y="558.41" x="649.25 655.25 661.25 664.25">22.9</text>
<text y="572.57" x="643.25 649.25 655.25 658.25 664.25">22.30</text>
<text y="544.25" x="690.25 696.25 702.25 705.25 711.25">16:55</text>
<text y="544.25" x="767.25 773.25 779.25 782.25">63.5</text>
<text y="558.41" x="690.25 696.25 702.25 705.25 711.25">20:00</text>
<text y="558.41" x="767.25 773.25 779.25 782.25">72.8</text>
<text y="572.57" x="761.25 767.25 773.25 776.25 782.25">68.37</text>
<text y="558.41" x="808.25 814.25 820.25 823.25 829.25">05:50</text>
<text y="558.41" x="890.25 896.25 899.25">0.4</text>
<text y="572.57" x="802.25 811.25 817.25 822.25 828.25 837.25 840.25">Gesamt:</text>
<text y="572.57" x="890.25 896.25 899.25">2.9</text>
<text y="544.25" x="920.25 929.25 932.25 938.25 944.25 947.25 956.25 958.25 964.25">Ø 10 min.</text>
<text y="544.25" x="1007.25 1013.25 1016.25">2.5</text>
<text y="558.41" x="926.25 932.25 938.25 941.25 947.25">17:05</text>
<text y="558.41" x="986.25 994.25 1004.25 1007.25 1013.25 1016.25">NW 6.1</text>
<text y="572.57" x="1007.25 1013.25 1016.25">2.7</text>
</g>
<text y="599" x="8.25 16.25 23.25 30.25 36.25 43.25" class="b">Sensor</text>
<text y="615" x="8.25 17.25 20.25 27.25 38.25 45.25 50.25" class="b">MinWert</text>
<text y="631" x="8.25 17.25 24.25 30.25 41.25 48.25 53.25" class="b">MaxWert</text>
<text y="647" x="8.25 16.25 23.25 28.25 34.25 41.25 47.25 53.25 60.25 67.25 70.25 74.25" class="b">Durchschnitt</text>
<text y="599" x="95.25 103.25 107.25 111.25 120.25 127.25 134.25 141.25" class="b">T. Außen</text>
<text y="599" x="185.25 190.25" class="b">°C</text>
<text y="599" x="213.25 221.25 225.25 229.25 233.25 240.25 247.25 254.25" class="b">T. Innen</text>
<text y="599" x="303.25 308.25" class="b">°C</text>
<text y="599" x="331.25 339.25 346.25 356.25 363.25 367.25 375.25 382.25 389.25 396.25" class="b">Temp Boden</text>
<text y="599" x="421.25 426.25" class="b">°C</text>
<text y="599" x="449.25 457.25 464.25 474.25 481.25 485.25 493.25" class="b">Temp SZ</text>
<text y="599" x="539.25 544.25" class="b">°C</text>
<text y="599" x="566.25 574.25 581.25 591.25 598.25 602.25 611.25" class="b">Temp KZ</text>
<text y="599" x="657.25 662.25" class="b">°C</text>
<text y="599" x="684.25 692.25 696.25 700.25 708.25 715.25 719.25 723.25 730.25" class="b">T. Puffer</text>
<text y="599" x="774.25 779.25" class="b">°C</text>
<text y="599" x="802.25 810.25 817.25 824.25 831.25" class="b">Regen</text>
<text y="599" x="886.25 889.25 892.25 902.25" class="b">l/m²</text>
<text y="599" x="920.25 931.25 934.25 941.25" class="b">Wind</text>
<text y="599" x="993.25 1000.25 1010.25 1013.25" class="b">km/h</text>
</g>
<g filter="url(#cr2)"><text y="21" x="439.5 452.5 456.5 460.5 464.5 476.5 485.5 493.5 502.5 506.5 510.5 519.5 528.5 532.5 541.5 550.5 554.5 563.5 572.5 581.5" class="w" style="font-size:16px">Mittwoch, 29.10.2008</text></g>
</svg></body></html>
